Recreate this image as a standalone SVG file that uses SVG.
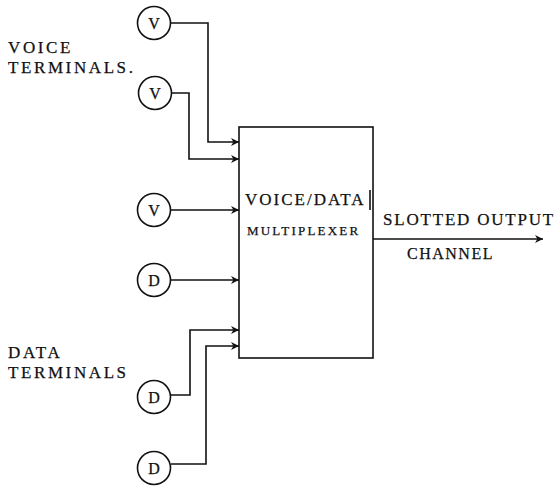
<svg xmlns="http://www.w3.org/2000/svg" width="558" height="487" viewBox="0 0 558 487">
<style>
.ln{fill:none;stroke:#111;stroke-width:1.6}
.term{fill:#fff;stroke:#111;stroke-width:1.6}
text{font-family:"Liberation Serif","Times New Roman",serif;fill:#111;stroke:#111;stroke-width:0.25}
.lab{font-size:17px;letter-spacing:2.6px}
.tl{font-size:16px;text-anchor:middle}
</style>
<defs>
<marker id="ah" viewBox="0 0 10 10" refX="10" refY="5" markerWidth="10" markerHeight="8" markerUnits="userSpaceOnUse" orient="auto">
<path d="M0,0 L10,5 L0,10 L3,5 Z" fill="#111"/>
</marker>
</defs>
<rect width="558" height="487" fill="#fff"/>
<g id="labels" font-family="Liberation Serif, serif">
<text class="lab" x="8" y="53">VOICE</text>
<text class="lab" x="8" y="73">TERMINALS.</text>
<text class="lab" x="8" y="358">DATA</text>
<text class="lab" x="8" y="378">TERMINALS</text>
<text x="383" y="225" font-size="17" letter-spacing="1.8">SLOTTED OUTPUT</text>
<text x="407" y="259" font-size="16" letter-spacing="1.5">CHANNEL</text>
</g>
<g id="connectors">
<path class="ln" d="M171,23 H208 V142 H239" marker-end="url(#ah)"/>
<path class="ln" d="M172,93 H189 V159 H239" marker-end="url(#ah)"/>
<path class="ln" d="M171,210 H239" marker-end="url(#ah)"/>
<path class="ln" d="M171,280 H239" marker-end="url(#ah)"/>
<path class="ln" d="M171,395 H190 V330 H239" marker-end="url(#ah)"/>
<path class="ln" d="M171,464 H206 V346 H239" marker-end="url(#ah)"/>
<path class="ln" d="M373,239 H543" marker-end="url(#ah)"/>
</g>
<g id="mux" font-family="Liberation Serif, serif">
<rect class="ln" x="239" y="127" width="134" height="231"/>
<line class="ln" x1="370" y1="190" x2="370" y2="210"/>
<text x="245" y="205" font-size="17" letter-spacing="2">VOICE/DATA</text>
<text x="247" y="235" font-size="13" letter-spacing="2.2">MULTIPLEXER</text>
</g>
<g id="v1"><circle class="term" cx="154" cy="23" r="16.5"/><text class="tl" x="154" y="28.5">V</text></g>
<g id="v2"><circle class="term" cx="155" cy="93" r="16.5"/><text class="tl" x="155" y="98.5">V</text></g>
<g id="v3"><circle class="term" cx="154" cy="210" r="16.5"/><text class="tl" x="154" y="215.5">V</text></g>
<g id="d1"><circle class="term" cx="154" cy="280" r="16.5"/><text class="tl" x="154" y="285.5">D</text></g>
<g id="d2"><circle class="term" cx="154" cy="397" r="16.5"/><text class="tl" x="154" y="402.5">D</text></g>
<g id="d3"><circle class="term" cx="154" cy="468" r="16.5"/><text class="tl" x="154" y="473.5">D</text></g>
</svg>
